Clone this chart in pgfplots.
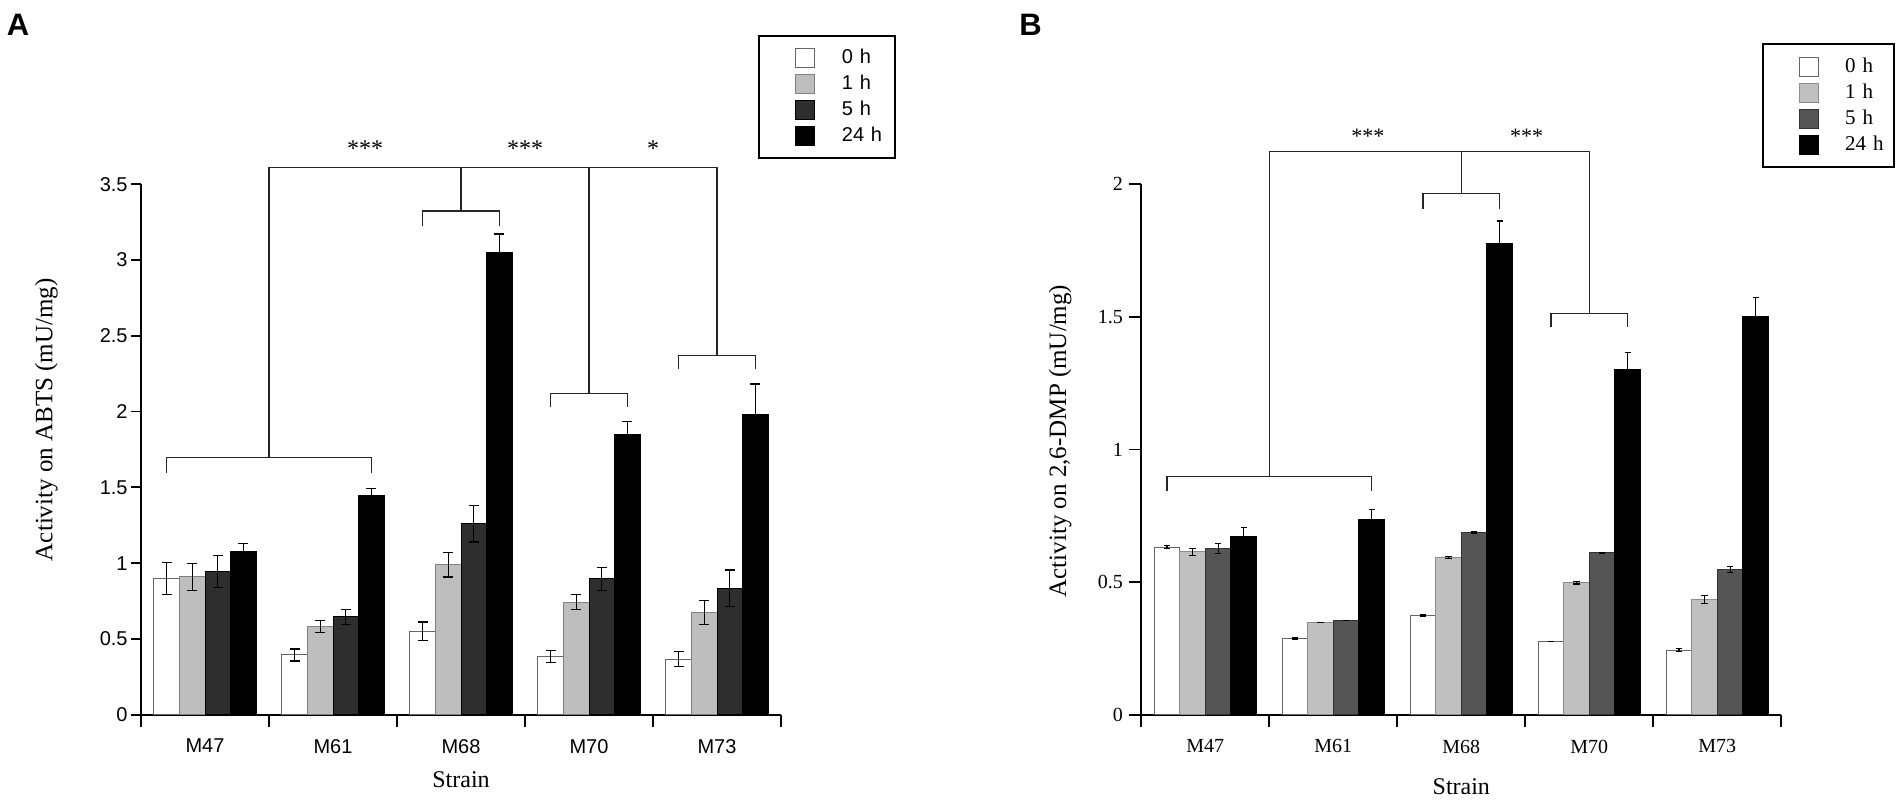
\documentclass[border=0pt]{standalone}
\usepackage{fontspec}
\setmainfont{Liberation Serif}
\setsansfont{Liberation Sans}
\usepackage{pgfplots}
\pgfplotsset{compat=1.18}
\usepackage{pgfplotstable}

\definecolor{gAone}{HTML}{BEBEBE}
\definecolor{gAfive}{HTML}{2E2E2E}
\definecolor{gBone}{HTML}{C0C0C0}
\definecolor{gBfive}{HTML}{555555}

% Panel A (ABTS)
\pgfplotstableread{
x y e
0 0.900 0.105
1 0.394 0.040
2 0.551 0.060
3 0.385 0.040
4 0.366 0.050
}\Azero
\pgfplotstableread{
x y e
0 0.910 0.090
1 0.584 0.040
2 0.989 0.080
3 0.742 0.050
4 0.676 0.080
}\Aone
\pgfplotstableread{
x y e
0 0.943 0.105
1 0.645 0.050
2 1.260 0.120
3 0.896 0.075
4 0.835 0.120
}\Afive
\pgfplotstableread{
x y e
0 1.077 0.050
1 1.447 0.045
2 3.052 0.120
3 1.846 0.090
4 1.982 0.200
}\Atwentyfour
% Panel B (2,6-DMP)
\pgfplotstableread{
x y e
0 0.632 0.005
1 0.286 0.003
2 0.373 0.003
3 0.277 0.000
4 0.243 0.006
}\Bzero
\pgfplotstableread{
x y e
0 0.614 0.014
1 0.348 0.000
2 0.592 0.003
3 0.498 0.005
4 0.434 0.014
}\Bone
\pgfplotstableread{
x y e
0 0.626 0.019
1 0.356 0.000
2 0.686 0.003
3 0.610 0.000
4 0.547 0.012
}\Bfive
\pgfplotstableread{
x y e
0 0.672 0.035
1 0.735 0.038
2 1.776 0.085
3 1.301 0.063
4 1.500 0.073
}\Btwentyfour

\pgfplotsset{
  panel/.style={
    scale only axis, width=320pt, height=265.25pt,
    ybar=0pt, bar width=0.2,
    axis x line*=bottom, axis y line*=left,
    axis line style={line width=0.9pt, black},
    xmin=-0.5, xmax=4.5,
    xtick={0,1,2,3,4}, xticklabels={M47,M61,M68,M70,M73},
    major x tick style={draw=none},
    minor xtick={-0.5,0.5,1.5,2.5,3.5,4.5},
    minor tick length=6pt,
    minor x tick style={line width=0.9pt, black},
    y tick style={line width=0.9pt, black},
    tick align=outside,
    clip=false,
    legend cell align=left,
  },
  sqlegend/.style={legend image code/.code={
      \path (0pt,-4.75pt);
      \draw[##1, line width=0.5pt] (18pt,-4.75pt) rectangle (27.5pt,4.75pt);}},
  errA/.style={error bars/.cd, y dir=both, y explicit, error mark=-,
      error bar style={black, line width=0.6pt, solid},
      error mark options={rotate=90, black, line width=0.6pt, mark size=2.5pt}},
  errB/.style={error bars/.cd, y dir=both, y explicit, error mark=-,
      error bar style={black, line width=0.6pt, solid},
      error mark options={rotate=90, black, line width=0.6pt, mark size=1.6pt}},
}
\tikzset{brk/.style={black!85, line width=0.6pt}}

\begin{document}
\begin{tikzpicture}
\useasboundingbox (0,0) rectangle (952pt,402pt);

%================ Panel A
\begin{axis}[panel,
  at={(70.5pt,44.65pt)}, anchor=south west,
  ymin=0, ymax=3.5,
  ytick={0,0.5,1,1.5,2,2.5,3,3.5},
  yticklabels={0,0.5,1,1.5,2,2.5,3,3.5},
  major tick length=5pt,
  yticklabel style={font=\sffamily\fontsize{10}{12}\selectfont, inner xsep=1.5pt},
  xticklabel style={font=\sffamily\fontsize{10}{12}\selectfont, inner ysep=0pt, yshift=-7pt},
  xlabel={Strain},
  xlabel style={font=\fontsize{12}{14}\selectfont, at={(axis description cs:0.5,-0.123)}, anchor=center},
  ylabel={Activity on ABTS (mU/mg)},
  ylabel style={font=\fontsize{12.5}{15}\selectfont, at={(axis description cs:-0.148,0.556)}, anchor=center},
  legend style={at={(rel axis cs:0.964,1.2812)}, anchor=north west,
    draw=black, line width=1pt, inner xsep=0pt, inner ysep=6pt, row sep=3pt,
    /tikz/every odd column/.append style={column sep=13.5pt},
    nodes={inner sep=0pt, text width=26.5pt, font=\sffamily\fontsize{10}{12}\selectfont}},
]
\addplot[fill=white, draw=black!60, line width=0.5pt, sqlegend, errA]
  table[x=x, y=y, y error=e] {\Azero};
\addlegendentry{0 h}
\addplot[fill=gAone, draw=black!50, line width=0.5pt, sqlegend, errA]
  table[x=x, y=y, y error=e] {\Aone};
\addlegendentry{1 h}
\addplot[fill=gAfive, draw=black, line width=0.5pt, sqlegend, errA]
  table[x=x, y=y, y error=e] {\Afive};
\addlegendentry{5 h}
\addplot[fill=black, draw=black, line width=0.5pt, sqlegend, errA]
  table[x=x, y=y, y error=e] {\Atwentyfour};
\addlegendentry{24 h}
% significance brackets
\draw[brk] (axis cs:-0.3,1.595) -- (axis cs:-0.3,1.696) -- (axis cs:1.3,1.696) -- (axis cs:1.3,1.595);
\draw[brk] (axis cs:0.5,1.696) -- (axis cs:0.5,3.608) -- (axis cs:4.0,3.608) -- (axis cs:4.0,2.371);
\draw[brk] (axis cs:1.7,3.226) -- (axis cs:1.7,3.323) -- (axis cs:2.3,3.323) -- (axis cs:2.3,3.226);
\draw[brk] (axis cs:2.0,3.323) -- (axis cs:2.0,3.608);
\draw[brk] (axis cs:2.7,2.030) -- (axis cs:2.7,2.121) -- (axis cs:3.3,2.121) -- (axis cs:3.3,2.030);
\draw[brk] (axis cs:3.0,2.121) -- (axis cs:3.0,3.608);
\draw[brk] (axis cs:3.7,2.284) -- (axis cs:3.7,2.371) -- (axis cs:4.3,2.371) -- (axis cs:4.3,2.284);
\node[font=\fontsize{12}{14}\selectfont, anchor=base, inner sep=0pt] at (axis cs:1.25,3.680) {***};
\node[font=\fontsize{12}{14}\selectfont, anchor=base, inner sep=0pt] at (axis cs:2.5,3.680) {***};
\node[font=\fontsize{12}{14}\selectfont, anchor=base, inner sep=0pt] at (axis cs:3.5,3.680) {*};
\node[font=\sffamily\bfseries\fontsize{15.5}{18}\selectfont, anchor=center] at (rel axis cs:-0.192,1.300) {A};
\end{axis}

%================ Panel B
\begin{axis}[panel,
  at={(570.65pt,44.65pt)}, anchor=south west,
  ymin=0, ymax=2,
  ytick={0,0.5,1,1.5,2},
  yticklabels={0,0.5,1,1.5,2},
  major tick length=6pt,
  yticklabel style={font=\fontsize{10}{12}\selectfont, inner xsep=3pt},
  xticklabel style={font=\fontsize{10}{12}\selectfont, inner ysep=0pt, yshift=-6.3pt},
  xlabel={Strain},
  xlabel style={font=\fontsize{12}{14}\selectfont, at={(axis description cs:0.5,-0.136)}, anchor=center},
  ylabel={Activity on 2,6-DMP (mU/mg)},
  ylabel style={font=\fontsize{12.5}{15}\selectfont, at={(axis description cs:-0.127,0.516)}, anchor=center},
  legend style={at={(rel axis cs:0.970,1.2657)}, anchor=north west,
    draw=black, line width=1pt, inner xsep=0pt, inner ysep=6.25pt, row sep=3pt,
    /tikz/every odd column/.append style={column sep=13pt},
    nodes={inner sep=0pt, text width=24.5pt, font=\fontsize{10.5}{12}\selectfont}},
]
\addplot[fill=white, draw=black!60, line width=0.5pt, sqlegend, errB]
  table[x=x, y=y, y error=e] {\Bzero};
\addlegendentry{0 h}
\addplot[fill=gBone, draw=black!45, line width=0.5pt, sqlegend, errB]
  table[x=x, y=y, y error=e] {\Bone};
\addlegendentry{1 h}
\addplot[fill=gBfive, draw=black!80, line width=0.5pt, sqlegend, errB]
  table[x=x, y=y, y error=e] {\Bfive};
\addlegendentry{5 h}
\addplot[fill=black, draw=black, line width=0.5pt, sqlegend, errB]
  table[x=x, y=y, y error=e] {\Btwentyfour};
\addlegendentry{24 h}
\draw[brk] (axis cs:-0.3,0.842) -- (axis cs:-0.3,0.897) -- (axis cs:1.3,0.897) -- (axis cs:1.3,0.842);
\draw[brk] (axis cs:0.5,0.897) -- (axis cs:0.5,2.124) -- (axis cs:3.0,2.124) -- (axis cs:3.0,1.514);
\draw[brk] (axis cs:1.7,1.908) -- (axis cs:1.7,1.965) -- (axis cs:2.3,1.965) -- (axis cs:2.3,1.908);
\draw[brk] (axis cs:2.0,1.965) -- (axis cs:2.0,2.124);
\draw[brk] (axis cs:2.7,1.462) -- (axis cs:2.7,1.514) -- (axis cs:3.3,1.514) -- (axis cs:3.3,1.462);
\node[font=\fontsize{11}{13}\selectfont, anchor=base, inner sep=0pt] at (axis cs:1.27,2.155) {***};
\node[font=\fontsize{11}{13}\selectfont, anchor=base, inner sep=0pt] at (axis cs:2.51,2.155) {***};
\node[font=\sffamily\bfseries\fontsize{15.5}{18}\selectfont, anchor=center] at (rel axis cs:-0.173,1.300) {B};
\end{axis}
\end{tikzpicture}
\end{document}
